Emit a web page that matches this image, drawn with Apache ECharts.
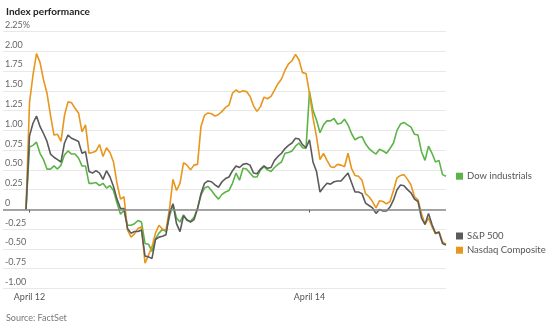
<!DOCTYPE html>
<html>
<head>
<meta charset="utf-8">
<script src="https://cdn.jsdelivr.net/npm/echarts@6/dist/echarts.min.js"></script>
<style>
  html, body { margin: 0; padding: 0; background: #fff; }
  #chart { width: 550px; height: 325px; }
</style>
</head>
<body>
<div id="chart"></div>
<script>
// Intraday % change vs. prior close, 10-minute steps; point 0 is the prior close.
// Each session holds 40 points (9:30 to 16:00).
const sessionOpen = [1, 41, 81];
const sessionLabels = ['April 12', 'April 13', 'April 14'];
const labeledSessions = [1, 81];

const seriesNames = ['Dow industrials', 'S&P 500', 'Nasdaq Composite'];
const seriesColors = ['#5cb448', '#5b5b5b', '#e8961e'];

const dow = [
  0, 0.79, 0.81, 0.85, 0.71, 0.63, 0.51, 0.51, 0.55, 0.51,
  0.56, 0.69, 0.74, 0.70, 0.70, 0.65, 0.55, 0.55, 0.33, 0.33,
  0.34, 0.30, 0.33, 0.27, 0.30, 0.24, 0.08, -0.06, -0.01, -0.20,
  -0.20, -0.18, -0.14, -0.16, -0.43, -0.44, -0.53, -0.37, -0.30, -0.25,
  -0.28, -0.09, 0.07, -0.11, -0.16, -0.07, -0.14, -0.15, -0.10, 0.01,
  0.18, 0.27, 0.29, 0.24, 0.18, 0.13, 0.19, 0.22, 0.24, 0.33,
  0.46, 0.37, 0.52, 0.51, 0.46, 0.41, 0.41, 0.50, 0.54, 0.50,
  0.48, 0.53, 0.57, 0.60, 0.71, 0.72, 0.74, 0.80, 0.84, 0.78,
  0.77, 1.49, 1.25, 1.13, 0.97, 1.07, 1.12, 1.12, 1.15, 1.08,
  1.09, 1.14, 1.07, 0.96, 0.88, 0.91, 0.92, 0.83, 0.77, 0.73,
  0.70, 0.76, 0.74, 0.71, 0.77, 0.84, 1.00, 1.08, 1.10, 1.07,
  1.04, 0.95, 0.94, 0.73, 0.62, 0.80, 0.71, 0.60, 0.62, 0.44,
  0.42
];

const sp500 = [
  0, 0.93, 1.09, 1.18, 1.05, 0.96, 0.86, 0.70, 0.66, 0.63,
  0.60, 0.84, 0.94, 0.90, 0.88, 0.86, 0.71, 0.73, 0.48, 0.46,
  0.49, 0.46, 0.38, 0.49, 0.41, 0.29, 0.13, 0.01, 0.01, -0.24,
  -0.30, -0.28, -0.28, -0.26, -0.59, -0.60, -0.62, -0.38, -0.35, -0.34,
  -0.32, -0.05, 0.07, -0.18, -0.28, -0.08, -0.13, -0.16, -0.13, 0.01,
  0.20, 0.33, 0.36, 0.35, 0.31, 0.28, 0.35, 0.39, 0.41, 0.49,
  0.55, 0.53, 0.57, 0.58, 0.56, 0.46, 0.45, 0.51, 0.55, 0.52,
  0.53, 0.62, 0.67, 0.71, 0.77, 0.81, 0.84, 0.90, 0.89, 0.82,
  0.78, 0.88, 0.60, 0.48, 0.22, 0.28, 0.33, 0.32, 0.35, 0.36,
  0.36, 0.41, 0.46, 0.34, 0.22, 0.22, 0.20, 0.08, 0.05, 0.02,
  -0.05, 0.00, -0.02, -0.02, 0.03, 0.12, 0.25, 0.31, 0.30, 0.25,
  0.21, 0.13, 0.10, -0.11, -0.19, -0.05, -0.19, -0.30, -0.29, -0.43,
  -0.45
];

const nasdaq = [
  0, 1.35, 1.70, 1.97, 1.86, 1.64, 1.47, 1.19, 0.94, 0.95,
  0.86, 1.19, 1.36, 1.35, 1.28, 1.22, 0.98, 1.07, 0.71, 0.72,
  0.74, 0.82, 0.67, 0.78, 0.72, 0.60, 0.33, 0.13, 0.16, -0.26,
  -0.35, -0.31, -0.24, -0.22, -0.68, -0.58, -0.47, -0.30, -0.20, -0.25,
  -0.26, 0.01, 0.38, 0.24, 0.33, 0.59, 0.56, 0.50, 0.56, 0.57,
  1.05, 1.19, 1.22, 1.21, 1.18, 1.20, 1.24, 1.29, 1.32, 1.47,
  1.51, 1.48, 1.50, 1.49, 1.43, 1.31, 1.24, 1.30, 1.42, 1.40,
  1.43, 1.51, 1.59, 1.65, 1.76, 1.84, 1.88, 1.96, 1.89, 1.73,
  1.72, 1.47, 1.16, 0.92, 0.63, 0.71, 0.62, 0.54, 0.53, 0.57,
  0.56, 0.54, 0.71, 0.52, 0.43, 0.42, 0.37, 0.20, 0.16, 0.10,
  0.02, 0.11, 0.10, 0.07, 0.10, 0.24, 0.40, 0.43, 0.44, 0.38,
  0.31, 0.16, 0.12, -0.05, -0.19, -0.11, -0.22, -0.31, -0.28, -0.41,
  -0.44
];

const FONT = 'Lato, "Open Sans", sans-serif';
const toPairs = arr => arr.map((v, i) => [i, v]);

// Nudges that keep the end labels from colliding.
const endLabelOffsets = [[0, 0], [0, -9], [0, 6]];

function lineSeries(idx, values, extra) {
  const color = seriesColors[idx];
  return Object.assign({
    name: seriesNames[idx],
    type: 'line',
    data: toPairs(values),
    showSymbol: false,
    symbol: 'none',
    lineStyle: { color: color, width: 1.6 },
    itemStyle: { color: color },
    endLabel: {
      show: true,
      distance: 10,
      offset: endLabelOffsets[idx],
      formatter: p => '{sq|}{t|' + p.seriesName + '}',
      rich: {
        sq: { width: 7, height: 7, backgroundColor: color },
        t: { fontFamily: FONT, fontSize: 9.5, color: '#555', padding: [0, 0, 0, 4] }
      }
    }
  }, extra || {});
}

const chart = echarts.init(document.getElementById('chart'), null, { renderer: 'canvas' });

chart.setOption({
  animation: false,
  backgroundColor: '#fff',
  title: [
    {
      text: 'Index performance',
      left: 1, top: 2,
      textStyle: { fontFamily: FONT, fontSize: 10, fontWeight: 'bold', color: '#222' }
    },
    {
      text: 'Source: FactSet',
      left: 1, top: 309,
      textStyle: { fontFamily: FONT, fontSize: 9, fontWeight: 'normal', color: '#777' }
    }
  ],
  grid: { left: 3, right: 104, top: 31.5, bottom: 36.5, containLabel: false },
  xAxis: {
    type: 'value',
    min: -6.571,
    max: 120,
    axisLine: { show: false },
    splitLine: { show: false },
    axisTick: {
      show: true,
      length: 3,
      customValues: sessionOpen,
      lineStyle: { color: '#444', width: 1 }
    },
    axisLabel: {
      customValues: labeledSessions,
      formatter: v => sessionLabels[sessionOpen.indexOf(v)] || '',
      fontFamily: FONT, fontSize: 9, color: '#555', margin: 4
    }
  },
  yAxis: {
    type: 'value',
    min: -1,
    max: 2.25,
    interval: 0.25,
    axisLine: { show: false },
    axisTick: { show: false },
    splitLine: { show: true, lineStyle: { color: '#e8e8e8', width: 1 } },
    axisLabel: {
      inside: true,
      margin: 2,
      verticalAlign: 'bottom',
      padding: [0, 0, 2, 0],
      fontFamily: FONT, fontSize: 9, color: '#666',
      formatter: v => {
        if (Math.abs(v - 2.25) < 1e-9) return '2.25%';
        if (Math.abs(v) < 1e-9) return '0';
        return v.toFixed(2);
      }
    }
  },
  series: [
    lineSeries(0, dow, {
      markLine: {
        silent: true,
        symbol: 'none',
        label: { show: false },
        lineStyle: { color: '#8a8a8a', width: 1.6, type: 'solid' },
        data: [{ yAxis: 0 }]
      }
    }),
    lineSeries(2, nasdaq),
    lineSeries(1, sp500)
  ]
});
</script>
</body>
</html>
